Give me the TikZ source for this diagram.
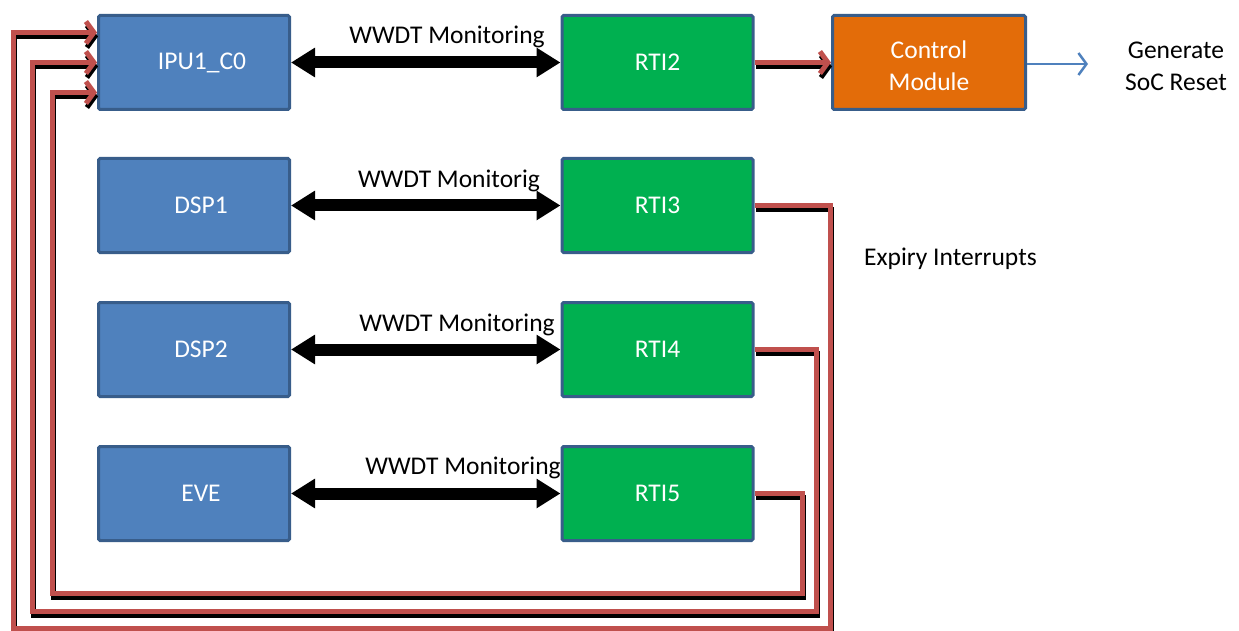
\documentclass[tikz,border=0pt]{standalone}
\usepackage{fontspec}
\setmainfont{Carlito}
\usetikzlibrary{arrows.meta,calc}
\definecolor{boxblue}{HTML}{4F81BD}
\definecolor{boxedge}{HTML}{385D8A}
\definecolor{rtigreen}{HTML}{00B050}
\definecolor{ctrlorange}{HTML}{E36C09}
\definecolor{irqred}{HTML}{C0504D}
\tikzset{
  core/.style={draw=boxedge, line width=3pt, fill=boxblue, text=white,
    minimum width=191pt, minimum height=94pt, inner sep=0pt, rounded corners=1.5pt},
  rti/.style={core, fill=rtigreen},
  ctrlbox/.style={core, fill=ctrlorange, minimum width=193pt},
  wwdt/.style={line width=12pt,
    {Triangle[length=24pt,width=28pt]}-{Triangle[length=24pt,width=28pt]}},
  irq/.style={draw=irqred, line width=5pt, -{Straight Barb[length=8pt,width=22pt]}},
  irqshadow/.style={draw=black, line width=5pt, -{Straight Barb[length=8pt,width=22pt]},
    transform canvas={shift={(1pt,-4pt)}}},
  caption/.style={text=black, inner sep=0pt},
  reset/.style={draw=boxblue, line width=2.5pt, -{Straight Barb[length=8pt,width=22pt]}},
}
\begin{document}
\begin{tikzpicture}[x=1pt,y=-1pt,font=\fontsize{25.5}{32}\selectfont]
\useasboundingbox (0,0) rectangle (1239,631);

% processing cores
\node[core] (ipu)  at (194,62.5)  {\hspace*{16pt}IPU1\_C0};
\node[core] (dsp1) at (194,205.5) {\hspace*{14pt}DSP1};
\node[core] (dsp2) at (194,349.5) {\hspace*{14pt}DSP2};
\node[core] (eve)  at (194,493.5) {\hspace*{14pt}EVE};

% RTI watchdog timers
\node[rti] (rti2) at (657.5,62.5)  {RTI2};
\node[rti] (rti3) at (657.5,205.5) {RTI3};
\node[rti] (rti4) at (657.5,349.5) {RTI4};
\node[rti] (rti5) at (657.5,493.5) {RTI5};

% reset controller, its two-line label sits a little low
\node[ctrlbox] (ctrl) at (929,62.5) {};
\node[text=white, align=center, inner sep=0pt] (ctrltext) at ($(ctrl.center)+(0,3)$) {Control\\Module};

% labels
\node[caption] (w1) at (447,37)  {WWDT Monitoring};
\node[caption] (w2) at (449,181) {WWDT Monitorig};
\node[caption] (w3) at (457,325) {WWDT Monitoring};
\node[caption] (w4) at (463,468) {WWDT Monitoring};
\node[caption, align=center] (soc) at (1176,66) {Generate\\SoC Reset};
\node[caption, anchor=west] (exp) at (864,259) {Expiry Interrupts};

% WWDT monitoring links
\draw[wwdt] (ipu.east)  -- (rti2.west);
\draw[wwdt] (dsp1.east) -- (rti3.west);
\draw[wwdt] (dsp2.east) -- (rti4.west);
\draw[wwdt] (eve.east)  -- (rti5.west);

% reset output
\coordinate (resetend) at (1088,64);
\draw[reset] (ctrl.east |- resetend) -- (resetend);

% interrupt routing corners and IPU inputs
\coordinate (in3) at ($(ipu.west)+(0,-30)$);
\coordinate (in4) at (ipu.west);
\coordinate (in5) at ($(ipu.west)+(0,30)$);
\coordinate (c3a) at (830,628);
\coordinate (c3b) at (13,32.5);
\coordinate (c4a) at (816,611);
\coordinate (c4b) at (32,62.5);
\coordinate (c5a) at (802,593);
\coordinate (c5b) at (52,92.5);

% shadows of the interrupt lines
\draw[irqshadow] (rti2.east) -- (ctrl.west);
\draw[irqshadow] (rti3.east) -| (c3a) -| (c3b) -- (in3);
\draw[irqshadow] (rti4.east) -| (c4a) -| (c4b) -- (in4);
\draw[irqshadow] (rti5.east) -| (c5a) -| (c5b) -- (in5);

% interrupt lines
\draw[irq] (rti2.east) -- (ctrl.west);
\draw[irq] (rti3.east) -| (c3a) -| (c3b) -- (in3);
\draw[irq] (rti4.east) -| (c4a) -| (c4b) -- (in4);
\draw[irq] (rti5.east) -| (c5a) -| (c5b) -- (in5);
\end{tikzpicture}
\end{document}
